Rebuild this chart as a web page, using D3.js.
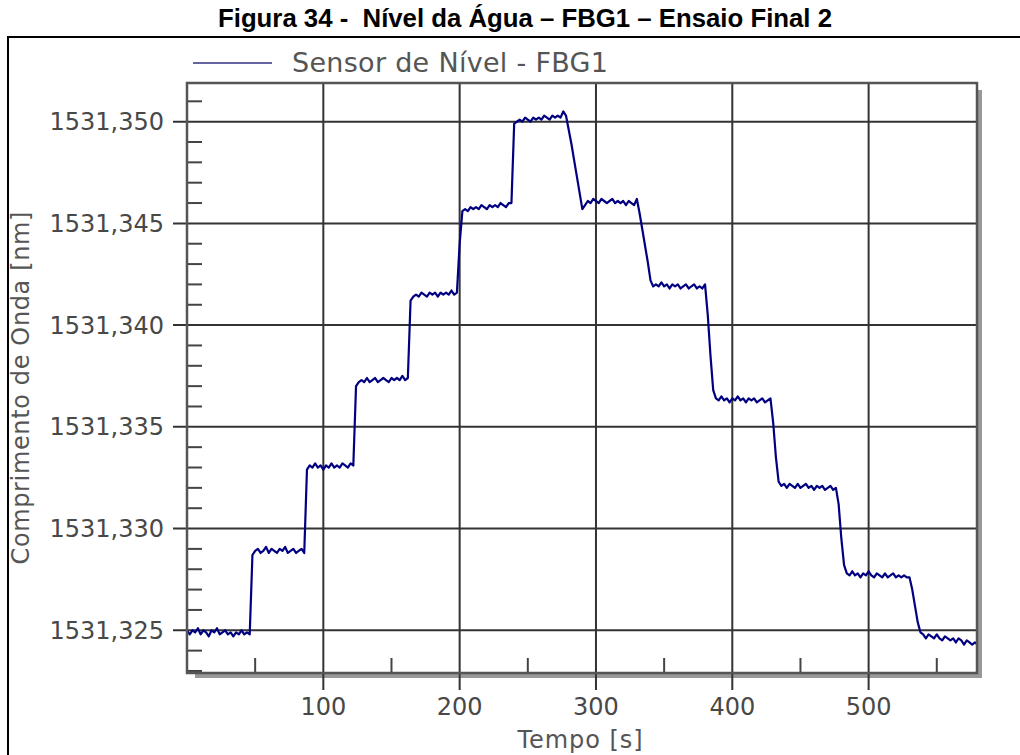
<!DOCTYPE html>
<html>
<head>
<meta charset="utf-8">
<script src="https://cdn.jsdelivr.net/npm/d3@7"></script>
<style>
	body { margin: 0; background: #fff; }
	svg { display: block; }
</style>
</head>
<body>
<div id="chart"></div>
<script>
// chart texts
const title = "Figura 34 -  Nível da Água – FBG1 – Ensaio Final 2";
const seriesName = "Sensor de Nível - FBG1";
const xTitle = "Tempo [s]";
const yTitle = "Comprimento de Onda [nm]";

// axis ticks
const xTicks = [100, 200, 300, 400, 500];
const xMinorTicks = [50, 150, 250, 350, 450, 550];
const yTicks = [1531.325, 1531.330, 1531.335, 1531.340, 1531.345, 1531.350];
const yMinorTicks = [1531.323, 1531.324, 1531.326, 1531.327, 1531.328, 1531.329,
	1531.331, 1531.332, 1531.333, 1531.334, 1531.336, 1531.337, 1531.338, 1531.339,
	1531.341, 1531.342, 1531.343, 1531.344, 1531.346, 1531.347, 1531.348, 1531.349, 1531.351];

// sampled every 2 s, from 0 s to 580 s
const sampleTimes = d3.range(0, 581, 2);
const wavelength = [
	// 0 - 46 s
	1531.3250, 1531.3248, 1531.3250, 1531.3249, 1531.3251, 1531.3248, 1531.3250, 1531.3249,
	1531.3247, 1531.3250, 1531.3249, 1531.3251, 1531.3248, 1531.3249, 1531.3250, 1531.3248,
	1531.3249, 1531.3247, 1531.3249, 1531.3248, 1531.3250, 1531.3248, 1531.3249, 1531.3248,
	// 48 - 86 s
	1531.3287, 1531.3289, 1531.3290, 1531.3288, 1531.3289, 1531.3291, 1531.3288, 1531.3290,
	1531.3289, 1531.3288, 1531.3290, 1531.3289, 1531.3291, 1531.3288, 1531.3289, 1531.3290,
	1531.3288, 1531.3289, 1531.3290, 1531.3288,
	// 88 - 122 s
	1531.3329, 1531.3331, 1531.3330, 1531.3332, 1531.3330, 1531.3331, 1531.3329, 1531.3331,
	1531.3330, 1531.3332, 1531.3330, 1531.3331, 1531.3330, 1531.3332, 1531.3331, 1531.3330,
	1531.3332, 1531.3331,
	// 124 - 162 s
	1531.3370, 1531.3372, 1531.3373, 1531.3372, 1531.3374, 1531.3372, 1531.3373, 1531.3374,
	1531.3372, 1531.3373, 1531.3374, 1531.3373, 1531.3372, 1531.3374, 1531.3373, 1531.3374,
	1531.3373, 1531.3375, 1531.3373, 1531.3374,
	// 164 - 198 s
	1531.3412, 1531.3414, 1531.3415, 1531.3414, 1531.3416, 1531.3415, 1531.3414, 1531.3416,
	1531.3415, 1531.3416, 1531.3414, 1531.3416, 1531.3415, 1531.3416, 1531.3415, 1531.3417,
	1531.3415, 1531.3416,
	// 200 - 238 s
	1531.3440,
	1531.3456, 1531.3457, 1531.3456, 1531.3458, 1531.3457, 1531.3458, 1531.3457, 1531.3459,
	1531.3458, 1531.3457, 1531.3459, 1531.3458, 1531.3459, 1531.3458, 1531.3460, 1531.3459,
	1531.3458, 1531.3460,
	1531.3460,
	// 240 - 278 s
	1531.3499, 1531.3500, 1531.3501, 1531.3500, 1531.3502, 1531.3501, 1531.3500, 1531.3502,
	1531.3501, 1531.3502, 1531.3501, 1531.3503, 1531.3502, 1531.3501, 1531.3503, 1531.3502,
	1531.3503, 1531.3502, 1531.3505, 1531.3503,
	// 280 - 290 s
	1531.3496, 1531.3489, 1531.3481, 1531.3473, 1531.3465, 1531.3457,
	// 292 - 330 s
	1531.3459, 1531.3461, 1531.3460, 1531.3462, 1531.3461, 1531.3460, 1531.3462, 1531.3461,
	1531.3460, 1531.3461, 1531.3462, 1531.3460, 1531.3461, 1531.3460, 1531.3461, 1531.3459,
	1531.3461, 1531.3460, 1531.3459, 1531.3462,
	// 332 - 340 s
	1531.3455, 1531.3447, 1531.3439, 1531.3431, 1531.3422,
	// 342 - 380 s
	1531.3419, 1531.3420, 1531.3419, 1531.3421, 1531.3419, 1531.3420, 1531.3418, 1531.3420,
	1531.3419, 1531.3420, 1531.3418, 1531.3419, 1531.3420, 1531.3418, 1531.3419, 1531.3420,
	1531.3418, 1531.3419, 1531.3418, 1531.3420,
	// 382 - 386 s
	1531.3405, 1531.3385, 1531.3368,
	// 388 - 428 s
	1531.3364, 1531.3363, 1531.3365, 1531.3363, 1531.3364, 1531.3362, 1531.3364, 1531.3363,
	1531.3365, 1531.3363, 1531.3364, 1531.3362, 1531.3364, 1531.3363, 1531.3364, 1531.3362,
	1531.3363, 1531.3364, 1531.3362, 1531.3363, 1531.3364,
	// 430 - 434 s
	1531.3352, 1531.3335, 1531.3323,
	// 436 - 476 s
	1531.3321, 1531.3322, 1531.3320, 1531.3322, 1531.3321, 1531.3320, 1531.3322, 1531.3320,
	1531.3321, 1531.3322, 1531.3320, 1531.3321, 1531.3319, 1531.3321, 1531.3320, 1531.3321,
	1531.3319, 1531.3320, 1531.3321, 1531.3319, 1531.3320,
	// 478 - 482 s
	1531.3312, 1531.3295, 1531.3282,
	// 484 - 528 s
	1531.3278, 1531.3277, 1531.3279, 1531.3277, 1531.3278, 1531.3276, 1531.3278, 1531.3277,
	1531.3279, 1531.3277, 1531.3276, 1531.3278, 1531.3277, 1531.3276, 1531.3278, 1531.3276,
	1531.3277, 1531.3278, 1531.3276, 1531.3277, 1531.3276, 1531.3277, 1531.3276,
	// 530 - 538 s
	1531.3276, 1531.3270, 1531.3262, 1531.3254, 1531.3249,
	// 540 - 580 s
	1531.3248, 1531.3246, 1531.3248, 1531.3247, 1531.3246, 1531.3248, 1531.3246, 1531.3245,
	1531.3247, 1531.3246, 1531.3245, 1531.3246, 1531.3244, 1531.3246, 1531.3245, 1531.3243,
	1531.3245, 1531.3244, 1531.3243, 1531.3244, 1531.3243
];

const width = 1020, height = 755;
const plot = { left: 187, top: 83, right: 977, bottom: 673 };
const FONT = "'DejaVu Sans', Verdana, sans-serif";

let svg = d3.select("#chart").append("svg")
	.attr("width", width)
	.attr("height", height);

// scales
let x = d3.scaleLinear().domain([0, 579.5]).range([plot.left, plot.right]);
let y = d3.scaleLinear().domain([1531.3229, 1531.3519]).range([plot.bottom, plot.top]);

const fmt = v => v.toFixed(3).replace(".", ",");

// title (keeps the double space after the dash)
svg.append("text")
	.attr("x", 525)
	.attr("y", 27)
	.attr("text-anchor", "middle")
	.attr("textLength", 614)
	.attr("lengthAdjust", "spacingAndGlyphs")
	.style("white-space", "pre")
	.style("font-family", "'Liberation Sans', Arial, sans-serif")
	.style("font-weight", "bold")
	.style("font-size", "25px")
	.text(title);

// outer frame (only left and top edges are inside the picture)
svg.append("path")
	.attr("d", `M8,${height} V37 H${width}`)
	.attr("fill", "none")
	.attr("stroke", "#000")
	.attr("stroke-width", 2);

// legend
svg.append("line")
	.attr("x1", 193).attr("x2", 272)
	.attr("y1", 63).attr("y2", 63)
	.attr("stroke", "#6464a0")
	.attr("stroke-width", 2.2);
svg.append("text")
	.attr("x", 292)
	.attr("y", 72)
	.attr("textLength", 316)
	.style("font-family", FONT)
	.style("font-size", "27px")
	.attr("fill", "#555")
	.text(seriesName);

// drop shadow of the plot box
svg.append("rect")
	.attr("x", plot.left + 8).attr("y", plot.top + 7)
	.attr("width", plot.right - plot.left - 3).attr("height", plot.bottom - plot.top - 2)
	.attr("fill", "#999");
svg.append("rect")
	.attr("x", plot.left).attr("y", plot.top)
	.attr("width", plot.right - plot.left).attr("height", plot.bottom - plot.top)
	.attr("fill", "#fff");

// grid lines
let grid = svg.append("g");
grid.selectAll("line.gx")
	.data(xTicks)
	.join("line")
	.attr("class", "gx")
	.attr("x1", d => x(d)).attr("x2", d => x(d))
	.attr("y1", plot.top).attr("y2", plot.bottom + 17)
	.attr("stroke", "#333")
	.attr("stroke-width", 2);
grid.selectAll("line.gy")
	.data(yTicks)
	.join("line")
	.attr("class", "gy")
	.attr("x1", plot.left - 14).attr("x2", plot.right)
	.attr("y1", d => y(d)).attr("y2", d => y(d))
	.attr("stroke", "#333")
	.attr("stroke-width", 2);

// minor ticks, pointing inward
grid.selectAll("line.mx")
	.data(xMinorTicks)
	.join("line")
	.attr("class", "mx")
	.attr("x1", d => x(d)).attr("x2", d => x(d))
	.attr("y1", plot.bottom).attr("y2", plot.bottom - 15)
	.attr("stroke", "#444")
	.attr("stroke-width", 2);
grid.selectAll("line.my")
	.data(yMinorTicks)
	.join("line")
	.attr("class", "my")
	.attr("x1", plot.left).attr("x2", plot.left + 15)
	.attr("y1", d => y(d)).attr("y2", d => y(d))
	.attr("stroke", "#444")
	.attr("stroke-width", 2);

// data line
let line = d3.line()
	.x((d, i) => x(sampleTimes[i]))
	.y(d => y(d));

svg.append("clipPath").attr("id", "clip")
	.append("rect")
	.attr("x", plot.left).attr("y", plot.top)
	.attr("width", plot.right - plot.left).attr("height", plot.bottom - plot.top);

svg.append("path")
	.datum(wavelength)
	.attr("clip-path", "url(#clip)")
	.attr("fill", "none")
	.attr("stroke", "#000080")
	.attr("stroke-width", 2.2)
	.attr("stroke-linejoin", "round")
	.attr("d", line);

// plot box border
svg.append("rect")
	.attr("x", plot.left).attr("y", plot.top)
	.attr("width", plot.right - plot.left).attr("height", plot.bottom - plot.top)
	.attr("fill", "none")
	.attr("stroke", "#555")
	.attr("stroke-width", 2.5);

// tick labels
svg.append("g").selectAll("text")
	.data(xTicks)
	.join("text")
	.attr("x", d => x(d))
	.attr("y", 715)
	.attr("text-anchor", "middle")
	.style("font-family", FONT)
	.style("font-size", "24px")
	.attr("fill", "#484848")
	.text(d => d);

svg.append("g").selectAll("text")
	.data(yTicks)
	.join("text")
	.attr("x", 164)
	.attr("y", d => y(d) + 8.5)
	.attr("text-anchor", "end")
	.style("font-family", FONT)
	.style("font-size", "24px")
	.attr("fill", "#484848")
	.text(d => fmt(d));

// axis titles
svg.append("text")
	.attr("x", 580)
	.attr("y", 748)
	.attr("text-anchor", "middle")
	.attr("textLength", 125)
	.style("font-family", FONT)
	.style("font-size", "24px")
	.attr("fill", "#555")
	.text(xTitle);

svg.append("text")
	.attr("transform", "translate(29,388) rotate(-90)")
	.attr("text-anchor", "middle")
	.attr("textLength", 353)
	.style("font-family", FONT)
	.style("font-size", "24px")
	.attr("fill", "#555")
	.text(yTitle);
</script>
</body>
</html>
